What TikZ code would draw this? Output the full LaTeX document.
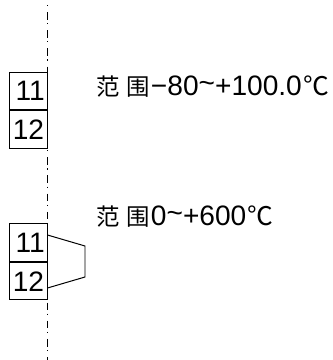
\documentclass[tikz,border=0pt]{standalone}
\usepackage{fontspec}
\setmainfont{Liberation Sans}
\newfontfamily\cjkfont{Noto Sans CJK SC}
\usepackage{tikz}
\usetikzlibrary{positioning}

\newcommand{\cjksize}{\fontsize{20}{20}\selectfont\cjkfont}
\newcommand{\fanwei}{{\cjksize 范\hspace{5.5pt}围}}
\newcommand{\degc}{\hspace{1pt}{\fontsize{22}{22}\selectfont\cjkfont ℃}}

\begin{document}
\begin{tikzpicture}[
            x = 0.3mm,
            y = -0.3mm,
            line width = 0.85pt,
        ]

        \tikzstyle{terminal}=[
            draw = black,
            minimum width = 38*0.3mm,
            minimum height = 37.5*0.3mm,
            inner sep = 0pt,
            font = \fontsize{24}{24}\selectfont
        ]
        \tikzstyle{rangetext}=[
            anchor = base west,
            inner sep = 0pt,
            font = \fontsize{24}{24}\selectfont
        ]

  \useasboundingbox (0,0) rectangle (332,360);

  \coordinate (top) at (47.5,5);
  \coordinate (bottom) at (47.5,360);
  \draw[dash pattern=on 1pt off 5pt on 6.5pt off 3pt] (top) -- (bottom);

  % upper pair
  \node[terminal] (n11) at (28.5,91.2) {\hspace*{3pt}11};
  \node[terminal, below=0pt of n11] (n12) {12};
  \node[rangetext] (t1) at (96,95) {\fanwei\hspace{1pt}\char"2212 80\raisebox{2pt}{\textasciitilde}+100.0\degc};

  % lower pair
  \node[terminal] (n21) at (28.5,242.7) {\hspace*{3pt}11};
  \node[terminal, below=0pt of n21] (n22) {12};
  \node[rangetext] (t2) at (96,225) {\fanwei\hspace{1pt}0\raisebox{2pt}{\textasciitilde}+600\degc};

  \coordinate (a1) at (47.5,235);
  \coordinate (a2) at (85,246);
  \coordinate (a3) at (85,277);
  \coordinate (a4) at (47.5,288);
  \draw (a1) -- (a2) -- (a3) -- (a4);

\end{tikzpicture}
\end{document}
